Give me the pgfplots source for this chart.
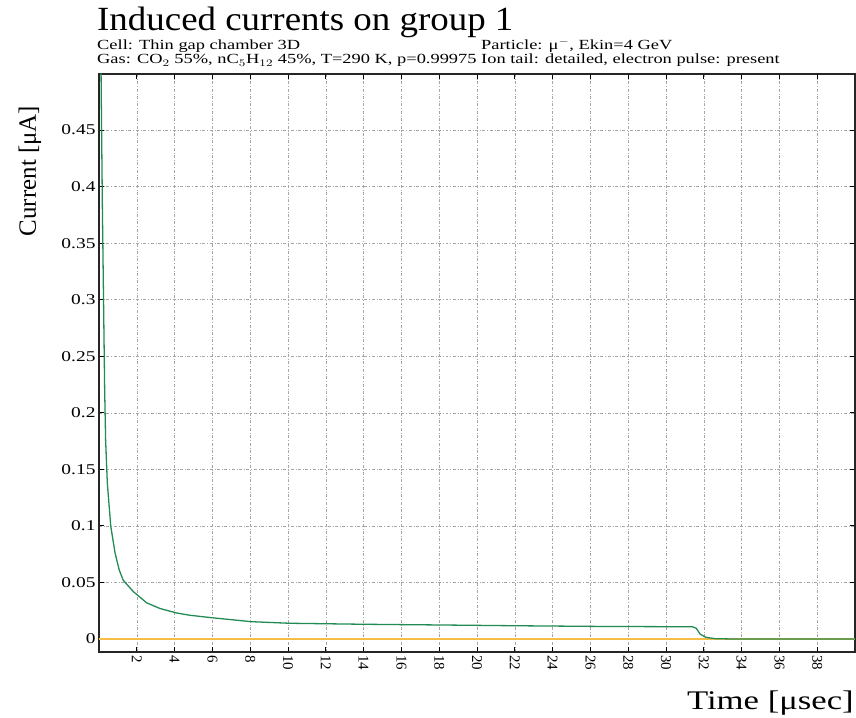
\documentclass[border=0pt]{standalone}
\usepackage{fontspec}
\setmainfont{Liberation Serif}
\usepackage{graphicx}
\usepackage{pgfplots}
\pgfplotsset{compat=1.18}
\definecolor{curvegreen}{RGB}{34,139,84}
\definecolor{zeroorange}{RGB}{246,190,70}
\newcommand{\sx}[1]{\scalebox{1.3}[1]{#1}}
\begin{document}
\begin{tikzpicture}[x=1bp,y=1bp]
\useasboundingbox (-99,-66) rectangle (757,652);
\begin{axis}[
  at={(0,0)}, anchor=south west,
  scale only axis, width=756bp, height=578bp,
  xmin=0, xmax=40, ymin=-0.0115, ymax=0.4996,
  xtick={2,4,6,8,10,12,14,16,18,20,22,24,26,28,30,32,34,36,38},
  ytick={0,0.05,0.1,0.15,0.2,0.25,0.3,0.35,0.4,0.45},
  yticklabels={\sx{0},\sx{0.05},\sx{0.1},\sx{0.15},\sx{0.2},\sx{0.25},\sx{0.3},\sx{0.35},\sx{0.4},\sx{0.45}},
  /pgf/number format/assume math mode=true,
  tick align=inside, major tick length=5bp,
  tick style={black, line width=1pt},
  axis line style={black!85, line width=1.2pt},
  grid=major,
  major grid style={black!35, dash dot, line width=0.5pt},
  tick label style={font=\fontsize{15}{15}\selectfont},
  x tick label style={rotate=-90, anchor=west},
  clip=true,
]
\addplot[zeroorange, line width=1.4pt] coordinates {(0,0) (40,0)};
\addplot[curvegreen, line width=1.3pt] table {
x y
0.05 0.62
0.12 0.48
0.18 0.38
0.24 0.30
0.30 0.22
0.35 0.176
0.44 0.138
0.62 0.100
0.85 0.076
1.07 0.061
1.28 0.052
1.81 0.042
2.52 0.032
3.22 0.027
4.1 0.023
4.8 0.021
5.86 0.019
8.06 0.0153
10.1 0.0139
14.1 0.013
18.0 0.0124
22.1 0.0117
26.5 0.0111
31.4 0.0108
31.6 0.0095
31.8 0.0044
32.1 0.0015
32.6 0.0003
33.5 0
40 0
};
\end{axis}
\node[anchor=base west, inner sep=0pt, font=\fontsize{34}{34}\selectfont] at (-2,621) {\scalebox{1.09}[1]{Induced currents on group 1}};
\node[anchor=base west, inner sep=0pt, font=\fontsize{14}{14}\selectfont] at (-2,602) {\scalebox{1.32}[1]{Cell: Thin gap chamber 3D}};
\node[anchor=base west, inner sep=0pt, font=\fontsize{14}{14}\selectfont] at (-2,588) {\scalebox{1.32}[1]{Gas: CO$_2$ 55\%, nC$_5$H$_{12}$ 45\%, T=290 K, p=0.99975}};
\node[anchor=base west, inner sep=0pt, font=\fontsize{14}{14}\selectfont] at (382,602) {\scalebox{1.32}[1]{Particle: μ$^-$, Ekin=4 GeV}};
\node[anchor=base west, inner sep=0pt, font=\fontsize{14}{14}\selectfont] at (382,588) {\scalebox{1.32}[1]{Ion tail: detailed, electron pulse: present}};
\node[rotate=90, inner sep=0pt, font=\fontsize{25}{25}\selectfont] at (-69,481) {Current [μA]};
\node[anchor=base east, inner sep=0pt, font=\fontsize{27}{27}\selectfont] at (755,-58) {\scalebox{1.29}[1]{Time [μsec]}};
\end{tikzpicture}
\end{document}
